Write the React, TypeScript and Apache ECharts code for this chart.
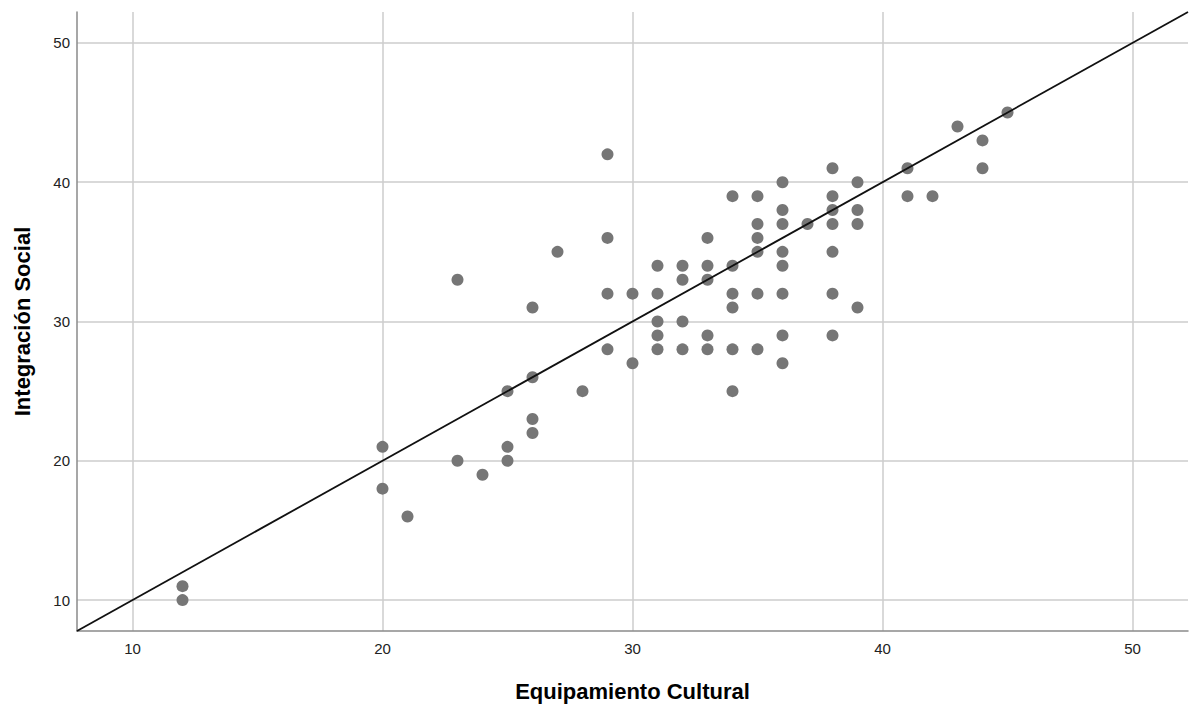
import React, { useEffect, useRef } from "react";
import * as echarts from "echarts";

// Equipamiento Cultural (x) / Integración Social (y)
const equipamiento = [
  12, 12,
  20, 20,
  21,
  23, 23,
  24,
  25, 25, 25,
  26, 26, 26, 26,
  27,
  28,
  29, 29, 29, 29,
  30, 30,
  31, 31, 31, 31, 31,
  32, 32, 32, 32,
  33, 33, 33, 33, 33,
  34, 34, 34, 34, 34, 34,
  35, 35, 35, 35, 35, 35,
  36, 36, 36, 36, 36, 36, 36, 36,
  37,
  38, 38, 38, 38, 38, 38, 38,
  39, 39, 39, 39,
  41, 41,
  42,
  43,
  44, 44,
  45,
];
const integracion = [
  11, 10,
  21, 18,
  16,
  33, 20,
  19,
  25, 21, 20,
  31, 26, 23, 22,
  35,
  25,
  42, 36, 32, 28,
  32, 27,
  34, 32, 30, 29, 28,
  34, 33, 30, 28,
  36, 34, 33, 29, 28,
  39, 34, 32, 31, 28, 25,
  39, 37, 36, 35, 32, 28,
  40, 38, 37, 35, 34, 32, 29, 27,
  37,
  41, 39, 38, 37, 35, 32, 29,
  40, 38, 37, 31,
  41, 39,
  39,
  44,
  43, 41,
  45,
];
const tickValues = [10, 20, 30, 40, 50];
const axisMin = 7.78;
const axisMax = 52.22;
const fitSlope = 1;
const fitIntercept = 0;
const xTitle = "Equipamiento Cultural";
const yTitle = "Integración Social";

const FONT = "'Liberation Sans', Arial, sans-serif";

export default function App() {
  const ref = useRef<HTMLDivElement>(null);
  useEffect(() => {
    const chart = echarts.init(ref.current!, null, { renderer: "svg" });
    const points = equipamiento.map((x, i) => [x, integracion[i]]);
    const fit = [axisMin, axisMax].map((x) => [x, fitSlope * x + fitIntercept]);
    const axisCommon = {
      type: "value",
      min: axisMin,
      max: axisMax,
      nameLocation: "middle",
      nameTextStyle: { fontFamily: FONT, fontSize: 22, fontWeight: "bold", color: "#000" },
      axisLine: { show: true, lineStyle: { color: "#8a8a8a", width: 1.5 } },
      axisTick: { show: false, customValues: tickValues },
      axisLabel: {
        customValues: tickValues,
        fontFamily: FONT,
        fontSize: 15,
        color: "#222",
      },
      splitLine: { show: true, lineStyle: { color: "#cdcdcd", width: 1.5 } },
    };
    chart.setOption({
      animation: false,
      backgroundColor: "#fff",
      grid: {
        left: 77,
        right: 2,
        top: 12,
        bottom: 73,
        containLabel: false,
        outerBoundsMode: "none",
      },
      xAxis: {
        ...axisCommon,
        name: xTitle,
        nameGap: 49,
        axisLabel: { ...axisCommon.axisLabel, margin: 10 },
      },
      yAxis: {
        ...axisCommon,
        name: yTitle,
        nameGap: 44,
        axisLabel: { ...axisCommon.axisLabel, margin: 7 },
      },
      series: [
        {
          type: "scatter",
          data: points,
          symbol: "circle",
          symbolSize: 12,
          itemStyle: { color: "#767676", opacity: 1 },
          z: 2,
        },
        {
          type: "line",
          data: fit,
          symbol: "none",
          lineStyle: { color: "#111", width: 1.8 },
          silent: true,
          z: 3,
        },
      ],
    });
    return () => chart.dispose();
  }, []);
  return (
    <div
      ref={ref}
      style={{ position: "fixed", left: 0, top: 0, width: 1190, height: 704, background: "#fff" }}
    />
  );
}
